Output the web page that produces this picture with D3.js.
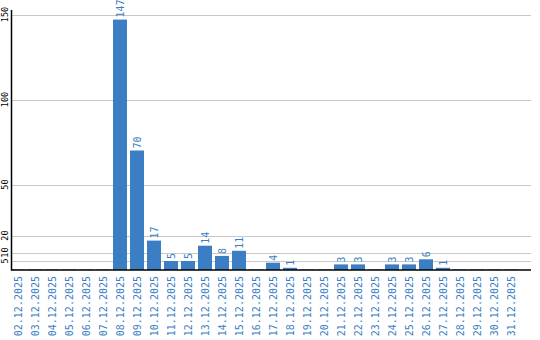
<!DOCTYPE html>
<html><head><meta charset="utf-8">
<script src="https://cdn.jsdelivr.net/npm/d3@7/dist/d3.min.js"></script>
<style>body{margin:0;background:#fff;}</style>
</head><body>
<svg id="c" width="540" height="340"></svg>
<script>
const categories = ["02.12.2025","03.12.2025","04.12.2025","05.12.2025","06.12.2025","07.12.2025","08.12.2025","09.12.2025","10.12.2025","11.12.2025","12.12.2025","13.12.2025","14.12.2025","15.12.2025","16.12.2025","17.12.2025","18.12.2025","19.12.2025","20.12.2025","21.12.2025","22.12.2025","23.12.2025","24.12.2025","25.12.2025","26.12.2025","27.12.2025","28.12.2025","29.12.2025","30.12.2025","31.12.2025"];
const values = [0,0,0,0,0,0,147,70,17,5,5,14,8,11,0,4,1,0,0,3,3,0,3,3,6,1,0,0,0,0];
const yTicks = [5,10,20,50,100,150];

(function(){
const svg = d3.select("#c");
const mLeft = 11, mRight = 531, mTop = 10, mBottom = 269.5;
const y = d3.scaleLinear().domain([0,150]).range([mBottom, 14.5]);
const x = d3.scaleBand().domain(categories).range([9.5, 519.5]).paddingInner(3/17).paddingOuter(1.5/17);
const blue = "#3b7ec3";
const data = values.map((v,i)=>({v, c:categories[i]}));

svg.append("g").selectAll("line").data(yTicks).join("line")
  .attr("x1", mLeft).attr("x2", mRight)
  .attr("y1", d => Math.round(y(d)) + 0.5).attr("y2", d => Math.round(y(d)) + 0.5)
  .attr("stroke", "#c8c8c8").attr("stroke-width", 1);

svg.append("g").selectAll("rect").data(data).join("rect")
  .attr("x", d => x(d.c)).attr("width", x.bandwidth())
  .attr("y", d => y(d.v)).attr("height", d => mBottom + 0.5 - y(d.v))
  .attr("fill", blue);

svg.append("g").selectAll("text").data(data.filter(d=>d.v>0)).join("text")
  .attr("transform", d => `translate(${x(d.c)+x.bandwidth()/2+3.5},${y(d.v)-2}) rotate(-90)`)
  .attr("font-family", "DejaVu Sans Mono").attr("font-size", 10)
  .attr("fill", blue).attr("text-anchor", "start")
  .text(d => d.v);

svg.append("line").attr("x1", mLeft+0.5).attr("x2", mLeft+0.5).attr("y1", mTop).attr("y2", 270.5)
  .attr("stroke", "#000").attr("stroke-width", 1.5);
svg.append("line").attr("x1", mLeft).attr("x2", mRight).attr("y1", 270).attr("y2", 270)
  .attr("stroke", "#000").attr("stroke-width", 1.5);

svg.append("g").selectAll("text").data(yTicks).join("text")
  .attr("transform", d => `translate(7.5,${y(d)}) rotate(-90)`)
  .attr("font-family", "DejaVu Sans Mono").attr("font-size", 8.5)
  .attr("fill", "#000").attr("text-anchor", "middle")
  .text(d => d);

svg.append("g").selectAll("text").data(categories).join("text")
  .attr("transform", d => `translate(${x(d)+x.bandwidth()/2+3.5},276) rotate(-90)`)
  .attr("font-family", "DejaVu Sans Mono").attr("font-size", 10)
  .attr("fill", blue).attr("text-anchor", "end")
  .text(d => d);
})();
</script>
</body></html>
